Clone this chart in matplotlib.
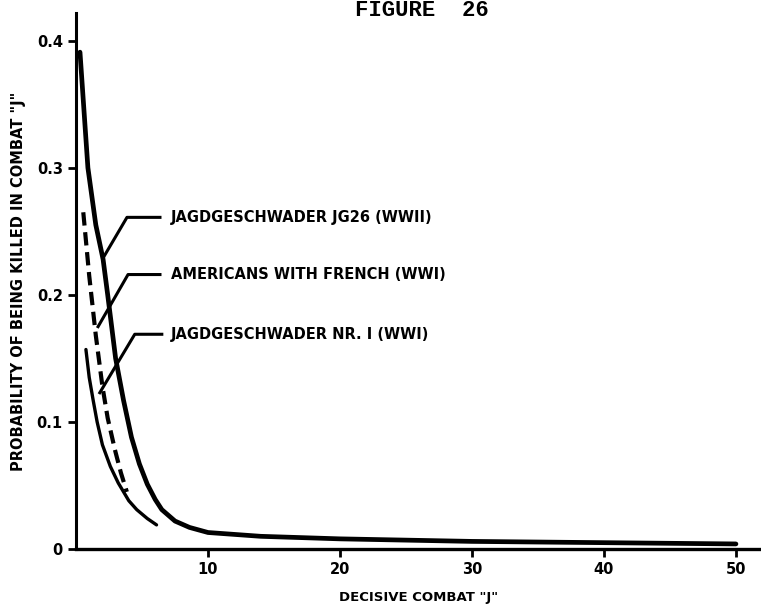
import numpy as np
import matplotlib
matplotlib.use("Agg")
import matplotlib.pyplot as plt

# curves
jg26_x = [0.3, 0.9, 1.5, 2.05, 2.4, 3.0, 3.6, 4.2, 4.8, 5.4, 6.0, 6.5, 7.5, 8.6, 10, 14, 20, 30, 40, 50]
jg26_y = [0.391, 0.300, 0.255, 0.228, 0.200, 0.150, 0.117, 0.088, 0.067, 0.051, 0.039, 0.031, 0.022, 0.017,
          0.013, 0.010, 0.008, 0.006, 0.005, 0.004]
amer_x = [0.55, 1.0, 1.5, 2.0, 2.4, 2.95, 3.4, 3.85]
amer_y = [0.265, 0.215, 0.168, 0.128, 0.103, 0.078, 0.060, 0.045]
jg1_x = [0.75, 1.0, 1.3, 1.6, 2.0, 2.6, 3.2, 4.0, 4.6, 5.4, 6.1]
jg1_y = [0.157, 0.135, 0.117, 0.100, 0.082, 0.065, 0.052, 0.038, 0.031, 0.024, 0.019]

labels = ["JAGDGESCHWADER JG26 (WWII)", "AMERICANS WITH FRENCH (WWI)", "JAGDGESCHWADER NR. I (WWI)"]
x_ticks = [10, 20, 30, 40, 50]
y_ticks = [0, 0.1, 0.2, 0.3, 0.4]
y_ticklabels = ["0", "0.1", "0.2", "0.3", "0.4"]

fig = plt.figure(figsize=(7.61, 6.08), dpi=100)
ax = fig.add_axes([0.0999, 0.097, 0.9001, 0.882])

ax.plot(jg26_x, jg26_y, color='black', lw=3.4, solid_capstyle='round', solid_joinstyle='round')
ax.plot(amer_x, amer_y, color='black', lw=3.0, dashes=(3.2, 1.6))
ax.plot(jg1_x, jg1_y, color='black', lw=2.4, solid_capstyle='round', solid_joinstyle='round')

# leader lines to the labels
leaders = [((2.05, 0.229), (3.86, 0.261), (6.36, 0.261)),
           ((1.67, 0.175), (3.94, 0.216), (6.36, 0.216)),
           ((1.80, 0.123), (4.45, 0.169), (6.50, 0.169))]
for lab, pts in zip(labels, leaders):
    xs, ys = zip(*pts)
    ax.plot(xs, ys, color='black', lw=2.2)
    ax.text(7.2, pts[2][1], lab, fontsize=10.5, fontweight='bold', ha='left', va='center')

ax.set_xlim(0, 51.9)
ax.set_ylim(0, 0.422)
ax.spines['top'].set_visible(False)
ax.spines['right'].set_visible(False)
ax.spines['left'].set_linewidth(2.2)
ax.spines['bottom'].set_linewidth(2.4)
ax.set_xticks(x_ticks)
ax.set_yticks(y_ticks)
ax.set_yticklabels(y_ticklabels)
ax.tick_params(axis='both', direction='out', length=6, width=2, labelsize=10.5)
for t in ax.get_xticklabels() + ax.get_yticklabels():
    t.set_fontweight('bold')

ax.set_xlabel('DECISIVE COMBAT "J"', fontsize=9.5, fontweight='bold', labelpad=10)
ax.set_ylabel('PROBABILITY OF BEING KILLED IN COMBAT "J"', fontsize=10.5, fontweight='bold', labelpad=8)

fig.text(0.555, 0.974, "FIGURE  26", family='Liberation Mono', fontweight='bold', fontsize=16,
         ha='center', va='baseline')

fig.savefig("out.png", dpi=100)
